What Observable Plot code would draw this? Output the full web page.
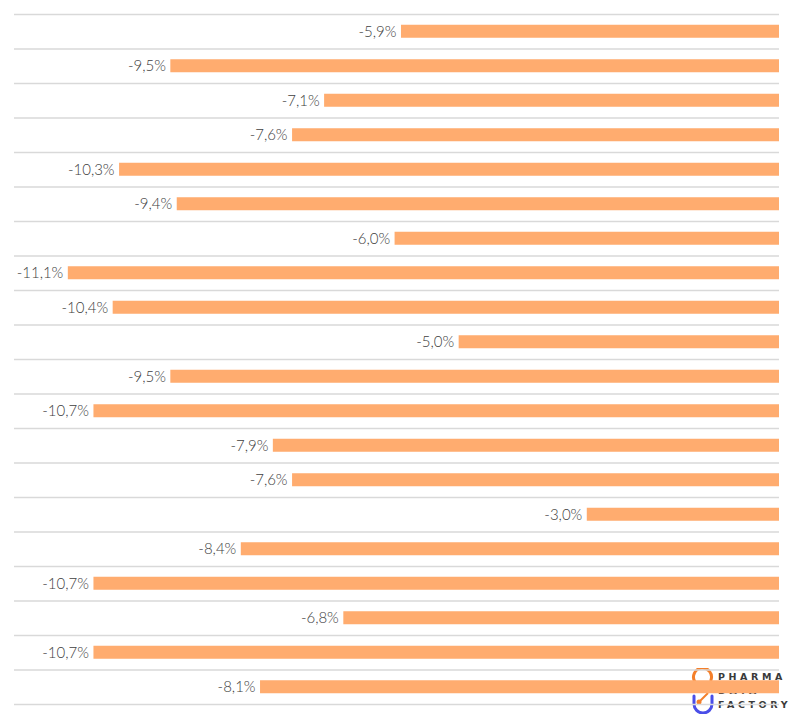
<!DOCTYPE html>
<html>
<head>
<meta charset="utf-8">
<script src="https://cdn.jsdelivr.net/npm/d3@7"></script>
<script src="https://cdn.jsdelivr.net/npm/@observablehq/plot@0.6"></script>
<style>
  html, body { margin: 0; padding: 0; background: #fff; }
  #wrap { position: relative; width: 794px; height: 718px; overflow: hidden; }
  #chart { position: absolute; left: 0; top: 0; z-index: 2; }
  #logo { position: absolute; left: 691px; top: 668px; z-index: 1; display: flex; align-items: center; }
  #logo .txt { font-family: "DejaVu Sans", sans-serif; font-size: 9.5px; font-weight: bold; color: #3a3a3a; letter-spacing: 3.6px; line-height: 14px; margin-left: 3px; }
</style>
</head>
<body>
<div id="wrap">
  <div id="chart"></div>
  <div id="logo">
    <svg width="24" height="46" viewBox="0 0 24 46">
      <path d="M4 14 A9 9 0 1 1 20 12" fill="none" stroke="#f47f2a" stroke-width="3" stroke-linecap="round"/>
      <path d="M3 28 L3 36 A9 9 0 0 0 21 36 L21 28" fill="none" stroke="#4a4ee8" stroke-width="3" stroke-linecap="round"/>
      <line x1="8" y1="34" x2="17" y2="25" stroke="#f47f2a" stroke-width="2"/>
      <circle cx="8" cy="34" r="2.5" fill="#f47f2a"/>
    </svg>
    <div class="txt">PHARMA<br>DATA<br>FACTORY</div>
  </div>
</div>
<script>
const rows = ["1","2","3","4","5","6","7","8","9","10","11","12","13","14","15","16","17","18","19","20"];
const values = [-5.9, -9.5, -7.1, -7.6, -10.3, -9.4, -6.0, -11.1, -10.4, -5.0, -9.5, -10.7, -7.9, -7.6, -3.0, -8.4, -10.7, -6.8, -10.7, -8.1];

const data = rows.map((r, i) => ({row: r, value: values[i]}));
const fmt = v => d3.format(".1f")(v).replace("−", "-").replace(".", ",") + "%";

const W = 794, H = 718, mT = 14, mB = 14;
const step = (H - mT - mB) / rows.length;

const plot = Plot.plot({
  width: W,
  height: H,
  marginLeft: 14,
  marginRight: 15,
  marginTop: mT,
  marginBottom: mB,
  style: {background: "transparent", fontFamily: "Lato, sans-serif"},
  x: {domain: [-11.94, 0], axis: null},
  y: {domain: rows, padding: 0, round: false, axis: null},
  marks: [
    Plot.ruleY(rows, {y: d => d, dy: -step / 2, stroke: "#d9d9d9", strokeWidth: 1.3}),
    Plot.ruleY(rows.slice(-1), {y: d => d, dy: step / 2, stroke: "#d9d9d9", strokeWidth: 1.3}),
    Plot.barX(data, {x1: "value", x2: 0, y: "row", fill: "#ffac6f", insetTop: 10.75, insetBottom: 10.75}),
    Plot.text(data, {x: "value", y: "row", text: d => fmt(d.value), textAnchor: "end", dx: -5, fill: "#404040", fontSize: 15, fontWeight: 300})
  ]
});
document.getElementById("chart").appendChild(plot);
</script>
</body>
</html>
